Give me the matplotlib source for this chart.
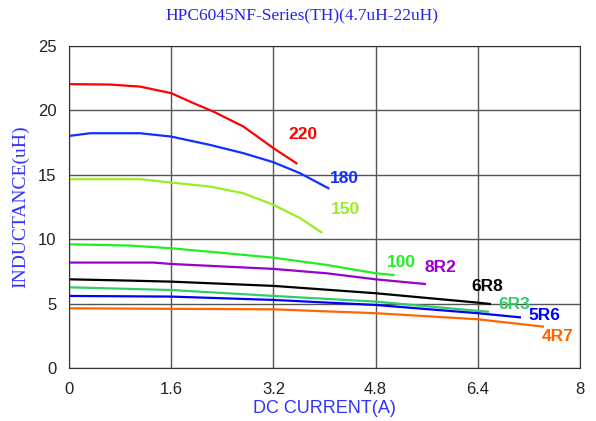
import matplotlib.pyplot as plt

# Inductance vs DC current
series = ['220', '180', '150', '100', '8R2', '6R8', '6R3', '5R6', '4R7']
currents = {
    '220': [0, 0.64, 1.11, 1.6, 1.95, 2.26, 2.73, 3.2, 3.56],
    '180': [0, 0.33, 1.11, 1.6, 2.21, 2.73, 3.2, 3.62, 4.06],
    '150': [0, 1.11, 1.6, 2.21, 2.73, 3.2, 3.62, 3.95],
    '100': [0, 0.95, 1.6, 2.47, 3.2, 4.03, 4.8, 5.08],
    '8R2': [0, 1.32, 1.6, 3.2, 4.03, 4.8, 5.57],
    '6R8': [0, 0.95, 1.6, 3.2, 4.8, 6.4, 6.59],
    '6R3': [0, 1.6, 3.2, 4.8, 6.4, 6.56],
    '5R6': [0, 1.6, 3.2, 4.8, 6.4, 7.06],
    '4R7': [0, 3.2, 4.8, 6.4, 7.42],
}
inductance = {
    '220': [22.03, 22.0, 21.84, 21.33, 20.55, 19.9, 18.74, 17.06, 15.89],
    '180': [18.01, 18.22, 18.22, 17.96, 17.31, 16.67, 15.97, 15.11, 13.95],
    '150': [14.65, 14.65, 14.39, 14.08, 13.56, 12.66, 11.62, 10.53],
    '100': [9.6, 9.5, 9.29, 8.9, 8.56, 8.0, 7.35, 7.22],
    '8R2': [8.18, 8.18, 8.07, 7.69, 7.35, 6.88, 6.52],
    '6R8': [6.88, 6.78, 6.7, 6.37, 5.8, 5.07, 4.97],
    '6R3': [6.26, 6.05, 5.59, 5.15, 4.43, 4.37],
    '5R6': [5.59, 5.54, 5.28, 4.89, 4.25, 3.93],
    '4R7': [4.63, 4.55, 4.25, 3.78, 3.21],
}
colors = {
    '220': '#ff0000', '180': '#1030ff', '150': '#99ee22', '100': '#22ee22',
    '8R2': '#9900cc', '6R8': '#000000', '6R3': '#33cc66', '5R6': '#0000ff',
    '4R7': '#ff6600',
}
label_pos = {
    '220': (3.43, 18.13), '180': (4.08, 14.67), '150': (4.1, 12.3), '100': (4.98, 8.2),
    '8R2': (5.56, 7.83), '6R8': (6.3, 6.35), '6R3': (6.72, 4.9), '5R6': (7.19, 4.11),
    '4R7': (7.41, 2.41),
}

fig = plt.figure(figsize=(5.96, 4.21), dpi=100)
ax = fig.add_axes([0.116, 0.126, 0.857, 0.765])

for s in series:
    ax.plot(currents[s], inductance[s], color=colors[s], lw=1.6)
    ax.text(*label_pos[s], s, color=colors[s], fontsize=12.5, fontweight='bold',
            family='Liberation Sans', va='center')

ax.set_xlim(0, 8)
ax.set_ylim(0, 25)
ax.set_xticks([0, 1.6, 3.2, 4.8, 6.4, 8])
ax.set_xticklabels(['0', '1.6', '3.2', '4.8', '6.4', '8'])
ax.set_yticks([0, 5, 10, 15, 20, 25])
ax.grid(True, color='#555555', lw=1)
ax.tick_params(length=0, labelsize=12, colors='#222222')
ax.tick_params(axis='x', pad=10)
ax.tick_params(axis='y', pad=9)
for t in ax.get_xticklabels() + ax.get_yticklabels():
    t.set_family('Liberation Sans')
for sp in ax.spines.values():
    sp.set_color('#333333')

ax.set_xlabel('DC CURRENT(A)', color='#3333ff', fontsize=13,
              family='Liberation Sans', labelpad=2)
ax.set_ylabel('INDUCTANCE(uH)', color='#3333ff', fontsize=14,
              family='Liberation Serif', labelpad=6)
fig.text(0.507, 0.962, 'HPC6045NF-Series(TH)(4.7uH-22uH)', color='#2222ee',
         fontsize=12.5, family='Liberation Serif', ha='center', va='center')

fig.savefig('out.png', dpi=100)
